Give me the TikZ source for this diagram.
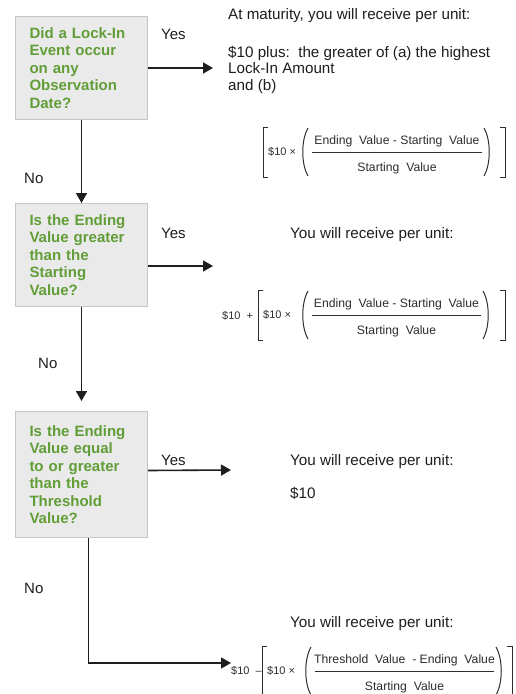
\documentclass[tikz,border=0pt]{standalone}
\usepackage{fontspec}
\setmainfont{Liberation Sans}
\usetikzlibrary{arrows.meta}
\definecolor{qgreen}{RGB}{98,158,56}
\definecolor{qfill}{RGB}{234,234,234}
\definecolor{qline}{RGB}{198,198,198}
\definecolor{ink}{RGB}{30,30,30}
\definecolor{fink}{RGB}{45,45,45}
\tikzset{
  qbox/.style={draw=qline, fill=qfill, line width=1pt, font=\bfseries\fontsize{15}{17.5}\selectfont,
    text=qgreen, align=left, text width=104pt, inner xsep=14pt, inner ysep=0pt,
    minimum height=103pt, anchor=north west},
  arr/.style={draw=ink, line width=1.6pt, -{Triangle[length=10pt,width=11pt]}},
  lbl/.style={font=\fontsize{15}{17}\selectfont, text=ink, inner sep=0pt, anchor=base west},
  ans/.style={font=\fontsize{15.2}{17}\selectfont, text=ink, inner sep=0pt, anchor=base west},
  ftxt/.style={font=\fontsize{12.2}{14}\selectfont, text=fink, inner sep=0pt},
  fsm/.style={font=\fontsize{11}{12}\selectfont, text=fink, inner sep=0pt},
  brk/.style={draw=fink, line width=1pt},
}
% #1 lb, #2 rb, #3 yc, #4 lp, #5 rp, #6 numerator, #7 prefix
\newcommand\payoff[7]{%
  \draw[brk] ({#1+5},{#3-25}) -- (#1,{#3-25}) -- (#1,{#3+25}) -- ({#1+5},{#3+25});
  \draw[brk] ({#2-5},{#3-25}) -- (#2,{#3-25}) -- (#2,{#3+25}) -- ({#2-5},{#3+25});
  \node[fsm, anchor=west] (#7x) at ({#1+5},#3) {\$10 ×};
  \draw[brk] ({#4+6},{#3-24}) .. controls ({#4-1},{#3-12}) and ({#4-1},{#3+12}) .. ({#4+6},{#3+24});
  \draw[brk] ({#5-6},{#3-24}) .. controls ({#5+1},{#3-12}) and ({#5+1},{#3+12}) .. ({#5-6},{#3+24});
  \draw[brk] ({#4+10},#3) -- ({#5-8},#3);
  \node[ftxt] (#7n) at ({(#4+#5)/2+1},{#3-11}) {#6};
  \node[ftxt] (#7d) at ({(#4+#5)/2+1},{#3+16}) {Starting\ \ Value};
}
\begin{document}
\begin{tikzpicture}[x=1pt,y=-1pt]
\useasboundingbox[fill=white] (0,0) rectangle (516,694);

% question boxes
\node[qbox] (q1) at (15,16) {Did a Lock-In\\Event occur\\on any\\Observation\\Date?};
\node[qbox] (q2) at (15,203) {Is the Ending\\Value greater\\than the\\Starting\\Value?};
\node[qbox, minimum height=126pt] (q3) at (15,411) {Is the Ending\\Value equal\\to or greater\\than the\\Threshold\\Value?};

% arrow end points
\coordinate (t1) at (213,68);
\coordinate (t2) at (213,266);
\coordinate (t3) at (231,470);
\coordinate (t4) at (231,663);

% connectors
\draw[arr] (q1.east) -- (t1);
\draw[arr] (q1.south) -- (q2.north);
\draw[arr] ([yshift=-11pt]q2.east) -- (t2);
\draw[arr] (q2.south) -- ([yshift=10pt]q3.north);
\draw[arr] ([yshift=4pt]q3.east) -- (t3);
\draw[arr] ([xshift=7pt]q3.south) |- (t4);

% Yes / No labels
\node[lbl] (y1) at (161,39) {Yes};
\node[lbl] (y2) at (161,238) {Yes};
\node[lbl] (y3) at (161,465) {Yes};
\node[lbl] (n1) at (24,183) {No};
\node[lbl] (n2) at (38,368) {No};
\node[lbl] (n3) at (24,593) {No};

% outcome 1
\node[ans] (a1) at (228,19) {At maturity, you will receive per unit:};
\node[ans] (a2) at (228,57) {\$10 plus:\ \ the greater of (a) the highest};
\node[ans] (a3) at (228,73.5) {Lock-In Amount};
\node[ans] (a4) at (228,90) {and (b)};
\payoff{263}{505}{152}{302}{490}{Ending\ \ Value - Starting\ \ Value}{f1}

% outcome 2
\node[ans] (b1) at (290,238) {You will receive per unit:};
\node[fsm, anchor=west] (b2) at (222,316) {\$10\ \ +};
\payoff{258}{505}{315}{302}{489}{Ending\ \ Value - Starting\ \ Value}{f2}

% outcome 3
\node[ans] (c1) at (290,465) {You will receive per unit:};
\node[ans] (c2) at (290,498) {\$10};

% outcome 4
\node[ans] (d1) at (290,627) {You will receive per unit:};
\node[fsm, anchor=west] (d2) at (231,671) {\$10\ \ –};
\payoff{262}{512}{671}{305}{502}{Threshold\ \ Value\ \ - Ending\ \ Value}{f4}
\end{tikzpicture}
\end{document}
